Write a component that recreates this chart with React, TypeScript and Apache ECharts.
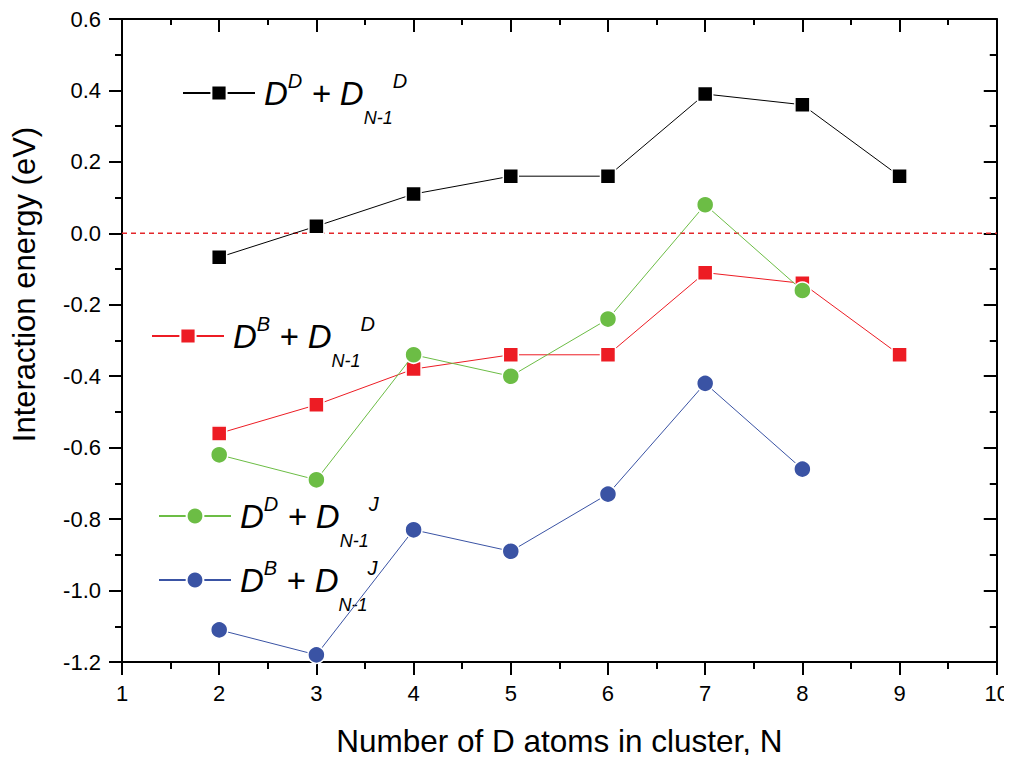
import React, { useEffect, useRef } from "react";
import * as echarts from "echarts";

const xValues = [2, 3, 4, 5, 6, 7, 8, 9];
const blackDD = [-0.067, 0.02, 0.11, 0.16, 0.16, 0.39, 0.36, 0.16];
const redDB = [-0.56, -0.48, -0.38, -0.34, -0.34, -0.11, -0.14, -0.34];
const greenDDJ = [-0.62, -0.69, -0.34, -0.40, -0.24, 0.08, -0.16];
const blueDBJ = [-1.11, -1.18, -0.83, -0.89, -0.73, -0.42, -0.66];
const zeroLineX = [1, 10];
const zeroLevel = 0;

const seriesNames = ["DD + DN-1D", "DB + DN-1D", "DD + DN-1J", "DB + DN-1J"];
const legendRich = [
  "{m0|D}{sup|D}{m| + D}{sub|N-1}{sup|D}",
  "{m0|D}{sup|B}{m| + D}{sub|N-1}{sup|D}",
  "{m0|D}{sup|D}{m| + D}{sub|N-1}{sup|J}",
  "{m0|D}{sup|B}{m| + D}{sub|N-1}{sup|J}",
];

const FONT = "'Liberation Sans', Arial, Helvetica, sans-serif";

const pairs = (vals: number[]) => vals.map((v, i) => [xValues[i], v]);

export default function App() {
  const ref = useRef<HTMLDivElement>(null);
  useEffect(() => {
    if (!ref.current) return;
    const chart = echarts.init(ref.current, null, { renderer: "svg" });
    const rich = {
      m0: { fontSize: 33, fontStyle: "italic", fontFamily: FONT, color: "#000", lineHeight: 33, padding: [0, 0, 0, 4] },
      m: { fontSize: 33, fontStyle: "italic", fontFamily: FONT, color: "#000", lineHeight: 33 },
      sup: { fontSize: 20, fontStyle: "italic", fontFamily: FONT, color: "#000", lineHeight: 20, padding: [0, 0, 24, 0] },
      sub: { fontSize: 18, fontStyle: "italic", fontFamily: FONT, color: "#000", lineHeight: 18, padding: [50, 0, 0, 0] },
    };
    const legendPos = [
      { left: 182, cy: 93, h: 19 },
      { left: 151, cy: 336, h: 19 },
      { left: 158, cy: 516, h: 21 },
      { left: 158, cy: 580, h: 21 },
    ];
    const legends = seriesNames.map((name, i) => ({
      show: true,
      data: [name],
      left: legendPos[i].left,
      top: legendPos[i].cy - 34,
      padding: 0,
      itemWidth: 72,
      itemHeight: legendPos[i].h,
      selectedMode: false,
      formatter: () => legendRich[i],
      textStyle: { rich },
    }));
    const colors = ["#000000", "#ed1c24", "#6cbd45", "#3a53a4"];
    const datas = [blackDD, redDB, greenDDJ, blueDBJ];
    const symbols = ["rect", "rect", "circle", "circle"];
    const sizes = [15, 15, 17, 17];
    const axisCommon = {
      type: "value",
      axisLine: { show: true, onZero: false, lineStyle: { color: "#000", width: 2 } },
      splitLine: { show: false },
      minorSplitLine: { show: false },
    };
    const option: any = {
      animation: false,
      backgroundColor: "#fff",
      grid: { left: 122, right: 15, top: 19, bottom: 101, containLabel: false },
      legend: legends,
      xAxis: [
        {
          ...axisCommon,
          position: "bottom",
          min: 1,
          max: 10,
          interval: 1,
          axisTick: { show: true, inside: false, length: 13, lineStyle: { color: "#000", width: 2 } },
          minorTick: { show: true, splitNumber: 2, length: 7, lineStyle: { color: "#000", width: 2 } },
          axisLabel: { show: true, margin: 20, fontSize: 22, fontFamily: FONT, color: "#000" },
          name: "Number of D atoms in cluster, N",
          nameLocation: "middle",
          nameGap: 63,
          nameTextStyle: { fontSize: 31.5, fontFamily: FONT, color: "#000" },
        },
        {
          ...axisCommon,
          position: "top",
          min: 1,
          max: 10,
          interval: 1,
          axisTick: { show: true, inside: true, length: 13, lineStyle: { color: "#000", width: 2 } },
          minorTick: { show: true, splitNumber: 2, length: 6, lineStyle: { color: "#000", width: 2 } },
          axisLabel: { show: false },
        },
      ],
      yAxis: [
        {
          ...axisCommon,
          position: "left",
          min: -1.2,
          max: 0.6,
          interval: 0.2,
          axisTick: { show: true, inside: false, length: 13, lineStyle: { color: "#000", width: 2 } },
          minorTick: { show: true, splitNumber: 2, length: 7, lineStyle: { color: "#000", width: 2 } },
          axisLabel: {
            show: true,
            margin: 21,
            fontSize: 22,
            fontFamily: FONT,
            color: "#000",
            formatter: (v: number) => (Math.abs(v) < 1e-9 ? 0 : v).toFixed(1),
          },
          name: "Interaction energy (eV)",
          nameLocation: "middle",
          nameGap: 82,
          nameRotate: 90,
          nameTextStyle: { fontSize: 31, fontFamily: FONT, color: "#000", padding: [0, 0, 0, 112] },
        },
        {
          ...axisCommon,
          position: "right",
          min: -1.2,
          max: 0.6,
          interval: 0.2,
          axisTick: { show: true, inside: true, length: 13, lineStyle: { color: "#000", width: 2 } },
          minorTick: { show: true, splitNumber: 2, length: 7, lineStyle: { color: "#000", width: 2 } },
          axisLabel: { show: false },
        },
      ],
      series: [
        {
          name: "zero",
          type: "line",
          xAxisIndex: 0,
          yAxisIndex: 0,
          data: zeroLineX.map((x) => [x, zeroLevel]),
          showSymbol: false,
          symbol: "none",
          silent: true,
          lineStyle: { color: "#e3262a", width: 1.5, opacity: 1, type: [5, 4] },
          z: 2,
        },
        ...seriesNames.map((name, i) => ({
          name,
          type: "line",
          xAxisIndex: 0,
          yAxisIndex: 0,
          data: pairs(datas[i]),
          symbol: symbols[i],
          symbolSize: sizes[i],
          showSymbol: true,
          lineStyle: { color: colors[i], width: 1 },
          itemStyle: { color: colors[i], borderColor: "#fff", borderWidth: 1.5 },
          z: 3 + i,
        })),
      ],
    };
    chart.setOption(option);
    return () => chart.dispose();
  }, []);
  return <div ref={ref} style={{ width: 1012, height: 763, margin: -8 }} />;
}
